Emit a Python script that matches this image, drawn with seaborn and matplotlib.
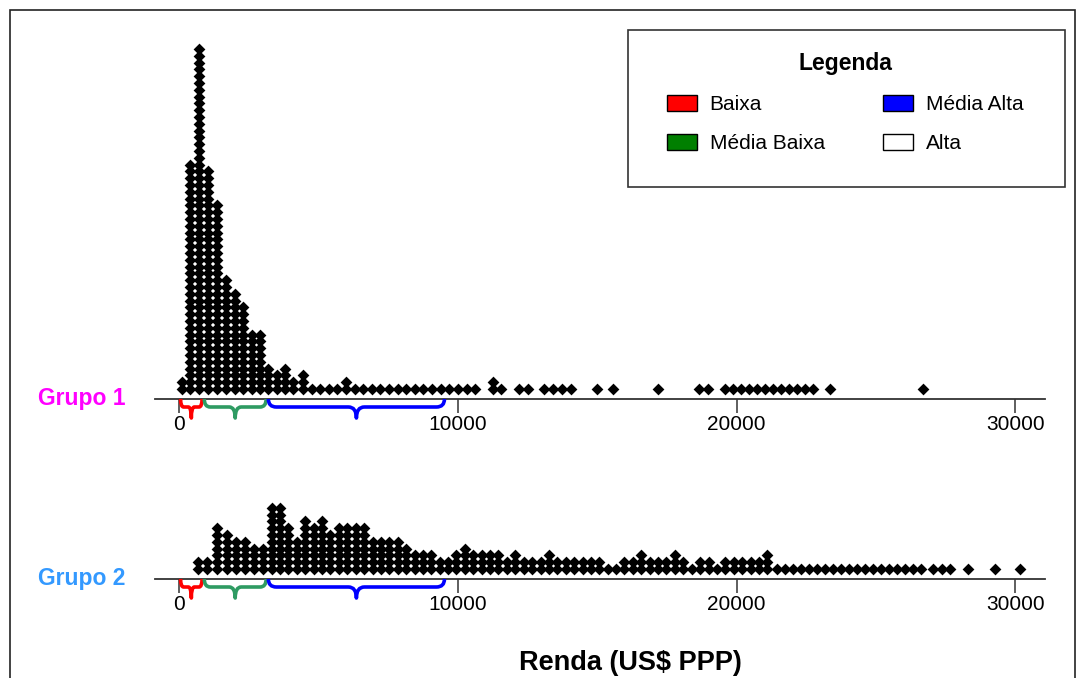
import numpy as np
import pandas as pd
import matplotlib
matplotlib.use("Agg")
import matplotlib.pyplot as plt
import seaborn as sns
from matplotlib.patches import Patch, Rectangle, PathPatch
from matplotlib.path import Path

# ---------------- data ----------------
g1_renda = [80, 380, 700, 1020, 1350, 1670, 1990, 2280, 2600, 2890,
            3180, 3500, 3790, 4070, 4430, 4760, 5040, 5370, 5650, 5980,
            6300, 6590, 6910, 7200, 7520, 7840, 8130, 8450, 8740, 9060,
            9390, 9670, 10000, 10320, 10610, 11240, 11530, 12190, 12510, 13080,
            13410, 13730, 14050, 14990, 15560, 17180, 18650, 18970, 19580, 19870,
            20150, 20440, 20730, 21020, 21300, 21590, 21880, 22160, 22450, 22740,
            23350, 26690]
g1_contagem = [2, 34, 51, 33, 28, 17, 15, 13, 9, 9,
               4, 3, 4, 2, 3, 1, 1, 1, 1, 2,
               1, 1, 1, 1, 1, 1, 1, 1, 1, 1,
               1, 1, 1, 1, 1, 2, 1, 1, 1, 1,
               1, 1, 1, 1, 1, 1, 1, 1, 1, 1,
               1, 1, 1, 1, 1, 1, 1, 1, 1, 1,
               1, 1]

g2_renda = [660, 980, 1360, 1690, 2030, 2350, 2670, 2990, 3310, 3610,
            3910, 4210, 4520, 4820, 5120, 5420, 5720, 6020, 6320, 6630,
            6930, 7230, 7530, 7830, 8130, 8440, 8740, 9040, 9340, 9640,
            9940, 10240, 10550, 10850, 11150, 11450, 11750, 12050, 12350, 12660,
            12960, 13260, 13560, 13860, 14160, 14470, 14770, 15070, 15370, 15670,
            15970, 16270, 16580, 16880, 17180, 17480, 17780, 18080, 18390, 18690,
            18990, 19290, 19590, 19890, 20190, 20500, 20800, 21100, 21450, 21740,
            22020, 22310, 22600, 22880, 23170, 23460, 23740, 24030, 24320, 24600,
            24890, 25180, 25460, 25750, 26040, 26330, 26610, 27050, 27370, 27660,
            28300, 29270, 30170]
g2_contagem = [2, 2, 7, 6, 5, 5, 4, 4, 10, 10,
               7, 5, 8, 7, 8, 6, 7, 7, 7, 7,
               5, 5, 5, 5, 4, 3, 3, 3, 2, 2,
               3, 4, 3, 3, 3, 3, 2, 3, 2, 2,
               2, 3, 2, 2, 2, 2, 2, 2, 1, 1,
               2, 2, 3, 2, 2, 2, 3, 2, 1, 2,
               2, 1, 2, 2, 2, 2, 2, 3, 1, 1,
               1, 1, 1, 1, 1, 1, 1, 1, 1, 1,
               1, 1, 1, 1, 1, 1, 1, 1, 1, 1,
               1, 1, 1]

grupos = ["Grupo 1", "Grupo 2"]
faixas = ["Baixa", "Média Baixa", "Média Alta", "Alta"]
faixas_inicio = [0, 850, 3150]      # brace intervals (Baixa, Média Baixa, Média Alta)
faixas_fim = [850, 3150, 9550]
ticks_x = [0, 10000, 20000, 30000]

# ---------------- style ----------------
sns.set_style("white")
plt.rcParams["font.family"] = ["Liberation Sans", "DejaVu Sans"]
plt.rcParams["text.color"] = "black"
plt.rcParams["axes.labelcolor"] = "black"
plt.rcParams["xtick.color"] = "black"

W, H = 1077, 678
fig = plt.figure(figsize=(W / 100, H / 100), dpi=100)

SP = 6.8          # px per stacked dot
BASE = 10         # px from axis line to centre of first dot
XMIN, XMAX = -879, 31066

ax1 = fig.add_axes([155 / W, 1 - 399 / H, 890 / W, (399 - 28) / H])
ax2 = fig.add_axes([155 / W, 1 - 579 / H, 890 / W, (579 - 470) / H])


def empilha(renda, contagem):
    xs, ys = [], []
    for r, c in zip(renda, contagem):
        for k in range(c):
            xs.append(r)
            ys.append(k)
    return pd.DataFrame({"renda": xs, "nivel": ys})


brace_cols = ["#FF0000", "#2E9B62", "#0000FF"]
brace_r = [3, 6, 8]


def chave(ax, x0, x1, cor, rpx, h1=8, h2=19):
    hpx = ax.get_position().height * H
    f = lambda p: -p / hpx
    r = rpx * (XMAX - XMIN) / 890
    xm = (x0 + x1) / 2
    verts = [(x0, 0), (x0, f(h1)), (x0 + r, f(h1)),
             (xm - r, f(h1)), (xm, f(h1)), (xm, f(h2)),
             (xm, f(h1)), (xm + r, f(h1)),
             (x1 - r, f(h1)), (x1, f(h1)), (x1, 0)]
    codes = [Path.MOVETO, Path.CURVE3, Path.CURVE3, Path.LINETO,
             Path.CURVE3, Path.CURVE3, Path.CURVE3, Path.CURVE3,
             Path.LINETO, Path.CURVE3, Path.CURVE3]
    p = PathPatch(Path(verts, codes), facecolor="none", edgecolor=cor,
                  lw=2.6, transform=ax.get_xaxis_transform(), clip_on=False,
                  zorder=5, capstyle="butt", joinstyle="round")
    ax.add_patch(p)


for ax, renda, cont in [(ax1, g1_renda, g1_contagem), (ax2, g2_renda, g2_contagem)]:
    df = empilha(renda, cont)
    sns.scatterplot(data=df, x="renda", y="nivel", marker="D", s=36,
                    color="black", linewidth=0, ax=ax, legend=False, zorder=3)
    hpx = ax.get_position().height * H
    ax.set_ylim(-BASE / SP, -BASE / SP + hpx / SP)
    ax.set_xlim(XMIN, XMAX)
    for s in ["top", "right", "left"]:
        ax.spines[s].set_visible(False)
    ax.spines["bottom"].set_color("#333333")
    ax.spines["bottom"].set_linewidth(1.3)
    ax.set_xticks(ticks_x)
    ax.set_xticklabels([str(t) for t in ticks_x])
    ax.set_yticks([])
    ax.tick_params(axis="x", bottom=True, direction="out", length=10, width=1.1,
                   color="#333333", labelsize=15, pad=1.5, labelcolor="black")
    ax.set_xlabel("")
    ax.set_ylabel("")
    ax.patch.set_alpha(0)
    for a, b, c, r in zip(faixas_inicio, faixas_fim, brace_cols, brace_r):
        chave(ax, a + 40, b - 40, c, r)

fig.text(38 / W, 1 - 399 / H, grupos[0], color="#FF00FF", fontsize=16.5,
         fontweight="bold", ha="left", va="center")
fig.text(38 / W, 1 - 578 / H, grupos[1], color="#3399FF", fontsize=16.5,
         fontweight="bold", ha="left", va="center")

ax2.set_xlabel("Renda (US$ PPP)", fontsize=19.5, fontweight="bold", color="black")
ax2.xaxis.set_label_coords((630 - 155) / 890, -(650 - 579) / ((579 - 470)))

# legend box (frame) and legend content
fig.add_artist(Rectangle((628 / W, 1 - 187 / H), (1065 - 628) / W, (187 - 30) / H,
                         transform=fig.transFigure, fill=False,
                         edgecolor="#333333", lw=1.2))
leg_cols = ["#FF0000", "#007F00", "#0000FF", "#FFFFFF"]
handles = [Patch(facecolor=c, edgecolor="black", linewidth=1.0) for c in leg_cols]
leg = fig.legend(handles, faixas, ncol=2, loc="upper left",
                 bbox_to_anchor=(667 / W, 1 - 52 / H),
                 borderaxespad=0, title="Legenda",
                 title_fontproperties={"weight": "bold", "size": 16.5},
                 fontsize=15, frameon=False, handlelength=1.45, handleheight=0.8,
                 handletextpad=0.6, labelspacing=0.95, borderpad=0,
                 columnspacing=2.8)
for t in leg.get_texts():
    t.set_color("black")
leg.get_title().set_color("black")

fig.add_artist(Rectangle((10 / W, -0.1), (1075 - 10) / W, 1 - 10 / H + 0.1,
                         transform=fig.transFigure, fill=False,
                         edgecolor="#222222", lw=1.2))

fig.savefig("out.png", dpi=100)
